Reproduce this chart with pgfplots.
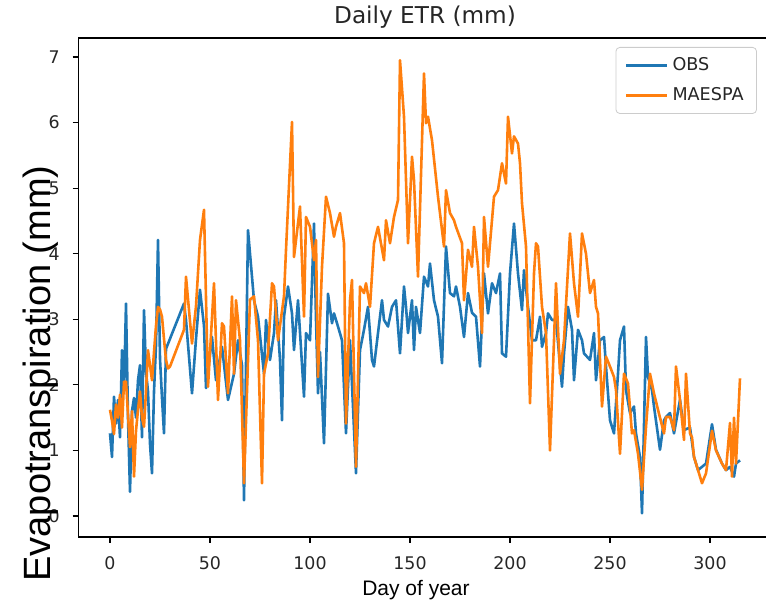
\documentclass[border=0pt]{standalone}
\usepackage{fontspec}
\setmainfont{DejaVu Sans}
\newfontfamily\labelfont{Liberation Sans}
\usepackage{pgfplots}
\usepackage{pgfplotstable}
\pgfplotsset{compat=1.18}
\definecolor{obsblue}{HTML}{1F77B4}
\definecolor{maeorange}{HTML}{FF7F0E}

% Observed daily evapotranspiration (mm)
\pgfplotstableread{
day et
0 1.26
1 0.90
2 1.82
3 1.41
4 1.77
5 1.20
6 2.53
7 1.90
8 3.24
9 1.50
10 0.37
11 1.60
12 1.80
13 1.50
14 2.07
15 2.30
16 1.20
17 3.14
18 2.20
19 1.90
20 1.10
21 0.65
22 1.90
23 2.60
24 4.21
25 2.40
26 1.80
27 1.26
28 2.55
37 3.24
38 2.99
41 1.87
43 2.70
45 3.45
47 2.90
48 1.95
51 2.73
53 2.07
56 2.58
59 1.77
62 2.17
64 2.68
66 2.30
67 0.24
69 4.36
72 3.29
74 3.04
77 2.17
78 2.99
80 2.38
82 2.79
83 3.29
85 2.38
86 1.46
87 3.04
89 3.50
91 3.09
92 2.53
94 3.29
97 1.82
98 2.79
100 2.68
102 4.46
103 3.00
104 1.87
105 2.50
107 1.11
109 3.39
111 2.94
112 3.09
114 2.89
116 2.68
118 1.26
120 2.68
123 0.65
125 2.53
127 2.84
129 3.19
131 2.38
132 2.28
134 2.79
136 3.29
137 2.99
139 2.89
141 3.19
143 3.29
145 2.48
147 3.50
148 3.19
149 2.79
151 3.29
152 2.53
153 3.19
155 2.79
157 3.65
159 3.50
160 3.85
162 3.29
164 3.04
166 2.33
168 4.11
170 3.40
172 3.35
173 3.50
175 3.19
177 2.73
179 3.40
181 3.10
183 3.04
185 2.28
187 3.70
189 3.09
191 3.55
193 3.40
195 3.70
196 2.48
198 2.43
200 3.70
202 4.46
204 3.70
206 3.14
207 3.75
209 3.19
211 2.68
213 2.68
215 3.04
216 2.58
218 2.79
219 3.09
221 2.99
223 2.99
226 1.97
227 2.48
229 3.19
231 2.84
232 2.07
234 2.84
236 2.68
237 2.48
240 2.38
242 2.79
243 2.07
245 2.68
247 2.73
248 2.28
250 1.46
252 1.26
254 2.17
255 2.68
257 2.89
258 1.92
260 1.57
262 1.67
263 1.26
265 0.90
266 0.04
268 2.73
269 2.12
271 1.92
272 1.67
275 1.01
277 1.46
278 1.51
280 1.57
282 1.26
285 1.77
287 1.31
290 1.35
292 0.90
294 0.70
296 0.75
298 0.80
301 1.40
303 1.01
306 0.80
308 0.70
310 0.75
312 0.60
313 0.80
315 0.85
}\obstable

% MAESPA simulated daily evapotranspiration (mm)
\pgfplotstableread{
day et
0 1.62
1 1.45
2 1.25
3 1.70
4 1.50
5 1.85
6 1.35
7 2.05
8 2.05
9 1.55
10 1.05
11 1.60
12 0.60
13 1.30
14 1.62
15 1.90
16 1.50
17 1.36
18 1.90
19 2.53
20 2.30
21 2.07
22 2.50
23 2.90
24 3.19
25 3.15
26 3.04
27 2.70
28 2.38
29 2.25
30 2.28
37 2.84
38 3.65
41 2.63
43 3.20
45 4.21
47 4.67
49 1.97
52 3.55
54 1.77
56 2.94
57 2.89
59 1.87
61 3.35
62 2.17
63 3.29
65 2.68
67 0.50
70 3.30
72 3.35
74 2.68
76 0.50
77 2.17
79 2.48
81 3.55
82 3.50
84 2.68
87 3.35
88 4.06
91 6.01
92 3.95
95 4.72
97 3.04
98 4.56
100 4.41
102 3.90
103 4.21
104 2.12
106 3.80
108 4.87
110 4.62
112 4.26
113 4.41
115 4.62
117 4.16
118 1.41
120 3.29
121 3.60
123 0.75
125 3.50
127 3.40
128 3.55
130 3.19
132 4.16
134 4.41
137 3.90
138 4.51
140 4.16
142 4.56
144 4.82
145 6.95
147 6.09
149 4.16
151 5.48
152 5.12
154 3.65
157 6.75
158 5.99
159 6.09
161 5.73
164 4.87
167 4.11
168 4.97
170 4.62
172 4.51
173 4.41
176 4.16
177 3.29
179 4.06
181 3.80
182 4.41
184 3.80
186 2.79
187 4.56
189 3.80
192 4.87
194 4.97
196 5.38
198 5.07
199 6.09
201 5.53
202 5.79
204 5.68
205 5.38
206 4.77
208 4.11
210 1.72
212 3.70
213 4.16
214 4.11
216 3.19
218 2.79
220 1.00
222 2.68
223 3.55
225 2.17
227 2.68
230 4.31
232 3.55
234 3.04
236 4.31
238 4.00
240 3.40
242 3.60
243 3.19
244 3.09
246 1.67
248 2.43
250 2.28
252 2.12
253 1.92
255 0.95
257 2.17
259 2.02
261 1.26
262 1.31
264 0.95
266 0.40
268 1.36
270 2.17
272 1.87
274 1.62
277 1.26
278 1.51
280 1.51
282 1.31
283 2.28
285 1.77
287 1.16
288 2.17
290 1.26
291 1.20
292 0.90
294 0.70
296 0.50
298 0.65
301 1.30
303 1.00
306 0.80
308 0.70
310 1.42
311 0.60
312 1.50
313 0.80
315 2.10
}\maestable

\begin{document}
\begin{tikzpicture}
\begin{axis}[
  name=ax,
  at={(0,0)}, anchor=south west,
  scale only axis,
  width=346.5pt, height=249.5pt,
  xmin=-15.75, xmax=330.75,
  ymin=-0.32, ymax=7.29,
  xtick={0,50,...,300},
  ytick={0,1,...,7},
  tick align=outside,
  xtick pos=bottom, ytick pos=left,
  major tick length=3pt,
  tick style={black, line width=0.6pt},
  axis line style={black, line width=0.6pt},
  /pgf/number format/assume math mode=true,
  ticklabel style={font=\fontsize{8.7}{10}\selectfont, text=black!85, inner sep=0pt},
  xticklabel style={anchor=north, yshift=-6.5pt},
  yticklabel style={anchor=east, xshift=-6.25pt},
  legend style={at={(0.979,0.982)}, anchor=north east, draw=black!20, fill=white,
    fill opacity=0.8, text opacity=1, rounded corners=2pt,
    font=\fontsize{8.8}{10}\selectfont, inner xsep=4.5pt, inner ysep=3pt,
    row sep=3pt, nodes={inner sep=2pt, text=black!85}},
  legend cell align=left,
  legend image code/.code={\draw[#1] (0pt,0pt) -- (20.5pt,0pt);},
]
\addplot[obsblue, line width=1.3pt, line join=round] table[x=day, y=et] {\obstable};
\addlegendentry{OBS}
\addplot[maeorange, line width=1.3pt, line join=round] table[x=day, y=et] {\maestable};
\addlegendentry{MAESPA}
\end{axis}
% title, centred over the axis box
\node[anchor=base, font=\fontsize{11.6}{13}\selectfont, text=black!85, inner sep=0pt] at (173.25pt,256.5pt) {Daily ETR (mm)};
\node[rotate=90, font=\labelfont\fontsize{19}{22}\selectfont, inner sep=0pt] at (-18.75pt,81.75pt) {Evapotranspiration (mm)};
\node[font=\labelfont\fontsize{10.5}{12}\selectfont, inner sep=0pt] at (168.75pt,-26.5pt) {Day of year};
\pgfresetboundingbox
\path[use as bounding box] (-39.25pt,-33pt) rectangle (343.75pt,268.5pt);
\end{tikzpicture}
\end{document}
